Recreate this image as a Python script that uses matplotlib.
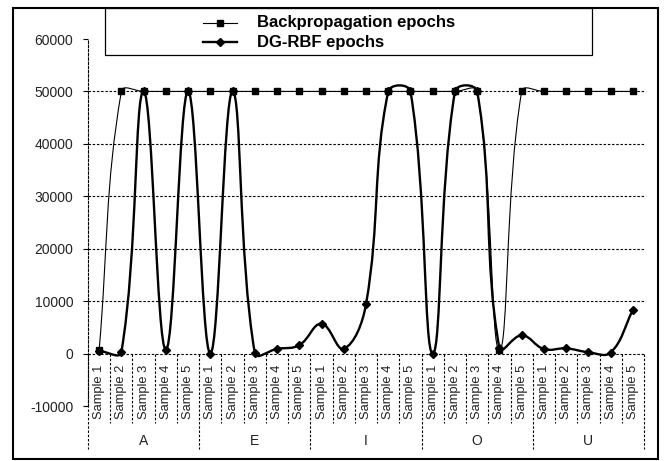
import matplotlib
matplotlib.use("Agg")
import matplotlib.pyplot as plt
import numpy as np
from matplotlib.path import Path
from matplotlib.patches import PathPatch, Rectangle
from matplotlib.lines import Line2D

plt.rcParams['font.family'] = ['Liberation Sans', 'DejaVu Sans']

groups = ['A', 'E', 'I', 'O', 'U']
samples = ['Sample 1', 'Sample 2', 'Sample 3', 'Sample 4', 'Sample 5']
backprop = [600, 50000, 50000, 50000, 50000,
            50000, 50000, 50000, 50000, 50000,
            50000, 50000, 50000, 50000, 50000,
            50000, 50000, 50000, 600, 50000,
            50000, 50000, 50000, 50000, 50000]
dgrbf = [500, 300, 50000, 700, 50000,
         0, 50000, 100, 900, 1600,
         5700, 900, 9400, 50000, 50000,
         0, 50000, 50000, 1000, 3500,
         850, 1000, 250, 200, 8300]
yticks = [-10000, 0, 10000, 20000, 30000, 40000, 50000, 60000]
grid_vals = [0, 10000, 20000, 30000, 40000, 50000]

W, H = 664, 461
fig = plt.figure(figsize=(W / 100, H / 100), dpi=100)
ax_l, ax_r, ax_t, ax_b = 88, 644, 39, 406
ax = fig.add_axes([ax_l / W, 1 - ax_b / H, (ax_r - ax_l) / W, (ax_b - ax_t) / H])
n = len(backprop)
ax.set_xlim(-0.5, n - 0.5)
ax.set_ylim(-10000, 60000)

# pixel scale, used for excel-like smoothing weights
sx = (ax_r - ax_l) / n
sy = (ax_b - ax_t) / 70000.0


def smooth(xs, ys, f=0.4):
    pts = np.column_stack([xs, ys]).astype(float)
    m = len(pts)

    def dist(a, b):
        return np.hypot((a[0] - b[0]) * sx, (a[1] - b[1]) * sy)

    verts = [pts[0]]
    codes = [Path.MOVETO]
    for i in range(m - 1):
        p0 = pts[i - 1] if i > 0 else pts[i]
        p1, p2 = pts[i], pts[i + 1]
        p3 = pts[i + 2] if i + 2 < m else pts[i + 1]
        d01, d12, d23 = dist(p0, p1), dist(p1, p2), dist(p2, p3)
        c1 = p1 + (p2 - p0) * f * d12 / (d01 + d12)
        c2 = p2 - (p3 - p1) * f * d12 / (d12 + d23)
        verts += [c1, c2, p2]
        codes += [Path.CURVE4] * 3
    return Path(verts, codes)


x = np.arange(n)
dash = (0, (2.2, 1.6))

for g in grid_vals:
    ax.axhline(g, color='black', lw=0.8, linestyle=dash, zorder=1)

ax.add_patch(PathPatch(smooth(x, backprop), fill=False, ec='black', lw=0.8, zorder=3))
ax.plot(x, backprop, ls='none', marker='s', ms=4.5, color='black', zorder=4)
ax.add_patch(PathPatch(smooth(x, dgrbf), fill=False, ec='black', lw=1.7, zorder=3))
ax.plot(x, dgrbf, ls='none', marker='D', ms=4, color='black', zorder=4)

for s in ['top', 'right', 'bottom']:
    ax.spines[s].set_visible(False)
ax.spines['left'].set_linestyle(dash)
ax.spines['left'].set_linewidth(0.8)
ax.set_yticks(yticks)
ax.set_yticklabels([str(v) for v in yticks], fontsize=10, color='#222222')
ax.tick_params(axis='y', length=3.5, width=0.8, pad=7)
ax.set_xticks([])

# category separators and labels below the zero line
trans = ax.get_xaxis_transform()
y0 = (0 - (-10000)) / 70000.0
y_short = (ax_b - 423) / (ax_b - ax_t)
y_long = (ax_b - 449) / (ax_b - ax_t)
for k in range(n + 1):
    bottom = y_long if k % 5 == 0 else y_short
    ax.plot([k - 0.5, k - 0.5], [y0, bottom], transform=trans, color='black',
            lw=0.8, linestyle=dash, clip_on=False)
for i in range(n):
    ax.text(i, (ax_b - 365) / (ax_b - ax_t), samples[i % 5], transform=trans,
            rotation=90, ha='center', va='top', fontsize=9.3, color='#222222')
for j, g in enumerate(groups):
    ax.text(j * 5 + 2, (ax_b - 441) / (ax_b - ax_t), g, transform=trans,
            ha='center', va='center', fontsize=10, color='#222222')

# outer border
fig.add_artist(Rectangle((13 / W, 1 - 459 / H), (658 - 13) / W, (459 - 8) / H,
                         transform=fig.transFigure, fill=False, ec='black', lw=1.5))

# legend box
fig.add_artist(Rectangle((105 / W, 1 - 55 / H), (592 - 105) / W, (55 - 8) / H,
                         transform=fig.transFigure, fill=False, ec='black', lw=0.9))
legend_rows = [('Backpropagation epochs', 's', 0.8, 23),
               ('DG-RBF epochs', 'D', 1.7, 42)]
for label, mk, lw, yy in legend_rows:
    yf = 1 - yy / H
    fig.add_artist(Line2D([203 / W, 237 / W], [yf, yf], transform=fig.transFigure,
                          color='black', lw=lw))
    fig.add_artist(Line2D([220 / W], [yf], transform=fig.transFigure, color='black',
                          marker=mk, ms=4.5 if mk == 's' else 4))
    fig.text(257 / W, yf, label, fontsize=12, fontweight='bold', va='center', ha='left')

fig.savefig('out.png', dpi=100)
